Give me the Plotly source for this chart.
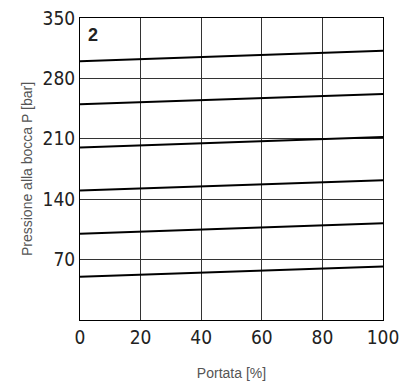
import plotly.graph_objects as go

x_vals = [0, 100]
series = [
    [50, 62],
    [100, 112],
    [150, 162],
    [200, 212],
    [250, 262],
    [300, 312],
]
x_ticks = [0, 20, 40, 60, 80, 100]
y_ticks = [70, 140, 210, 280, 350]

fig = go.Figure()
for s in series:
    fig.add_trace(go.Scatter(x=x_vals, y=s, mode="lines",
                             line=dict(color="black", width=2),
                             showlegend=False, hoverinfo="skip"))

tick_font = dict(family="DejaVu Sans Condensed, Liberation Sans Narrow, Roboto Condensed, sans-serif",
                 size=19, color="#222", weight=300)
title_font = dict(family="Liberation Sans, Arial, sans-serif", size=14, color="#555")

fig.update_xaxes(range=[0, 100], tickvals=x_ticks, ticktext=[str(v) for v in x_ticks],
                 showgrid=True, gridcolor="#333", gridwidth=1,
                 showline=True, linecolor="black", linewidth=1, mirror=True,
                 zeroline=False, ticks="", tickfont=tick_font, automargin=False,
                 title=dict(text="Portata [%]", font=title_font, standoff=21))
fig.update_yaxes(range=[0, 350], tickvals=y_ticks, ticktext=[str(v) for v in y_ticks],
                 showgrid=True, gridcolor="#333", gridwidth=1,
                 showline=True, linecolor="black", linewidth=1, mirror=True,
                 zeroline=False, ticks="", tickfont=tick_font, automargin=False,
                 title=dict(text="Pressione alla bocca P [bar]", font=title_font, standoff=6))

fig.add_annotation(text="<b>2</b>", xref="paper", yref="paper", x=0.02, y=0.985,
                   xanchor="left", yanchor="top", showarrow=False,
                   font=dict(family="Liberation Sans, Arial, sans-serif", size=18, color="#222"))

fig.update_layout(width=404, height=382, plot_bgcolor="white", paper_bgcolor="white",
                  margin=dict(l=80, r=21, t=18, b=62))

fig.write_html("out.html", config={"displayModeBar": False},
               post_script="document.body.style.margin='0';")
